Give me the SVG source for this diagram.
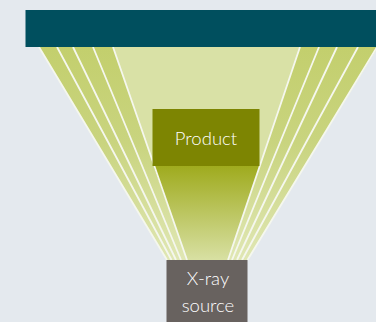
<svg xmlns="http://www.w3.org/2000/svg" width="376" height="322" viewBox="0 0 376 322">
<defs>
<linearGradient id="band" gradientUnits="userSpaceOnUse" x1="0" y1="47" x2="0" y2="260"><stop offset="0" stop-color="#c3cf6d"/><stop offset="0.45" stop-color="#c9d47f"/><stop offset="1" stop-color="#e0e7b4"/></linearGradient>
<linearGradient id="core" gradientUnits="userSpaceOnUse" x1="0" y1="166" x2="0" y2="260"><stop offset="0" stop-color="#9fab1e"/><stop offset="1" stop-color="#d8e0a3"/></linearGradient>
</defs>
<style>
.bg{fill:#e4e9ee}
.band{fill:url(#band)}
.ray{stroke:#f5f7ee;stroke-width:1.8;fill:none}
.label{font-family:"Lato","Noto Sans",sans-serif;font-weight:300;font-size:18.500px;fill:#ffffff;text-anchor:middle}
</style>
<rect class="bg" width="376" height="322"/>
<g id="beam">
<polygon class="band" points="39,47 113,47 187,260 167,260"/>
<polygon class="band" points="300,47 376,47 376,50 247,260 228,260"/>
<polygon fill="#d9e1a6" points="113,47 300,47 259.800,166 154,166"/>
<polygon fill="url(#core)" points="153.500,166 259.800,166 228,260 187,260"/>
</g>
<g id="connectors">
<path class="ray" d="M39 47L167 260M57 47L171.500 260M73 47L176 260M93 47L181 260M113 47L187 260"/>
<path class="ray" d="M300 47L228 260M319 47L232 260M337 47L237 260M358 47L242 260M377 47L247.500 260"/>
</g>
<g id="detector"><rect x="25.500" y="10" width="351" height="37" fill="#004f5e"/></g>
<g id="product"><rect x="152.500" y="109" width="107" height="57" fill="#7d8502"/><text class="label" x="206" y="145">Product</text></g>
<g id="source"><rect x="166.500" y="260" width="81" height="62" fill="#68625f"/><text class="label" x="208" y="285">X-ray</text><text class="label" x="208" y="312">source</text></g>
</svg>
